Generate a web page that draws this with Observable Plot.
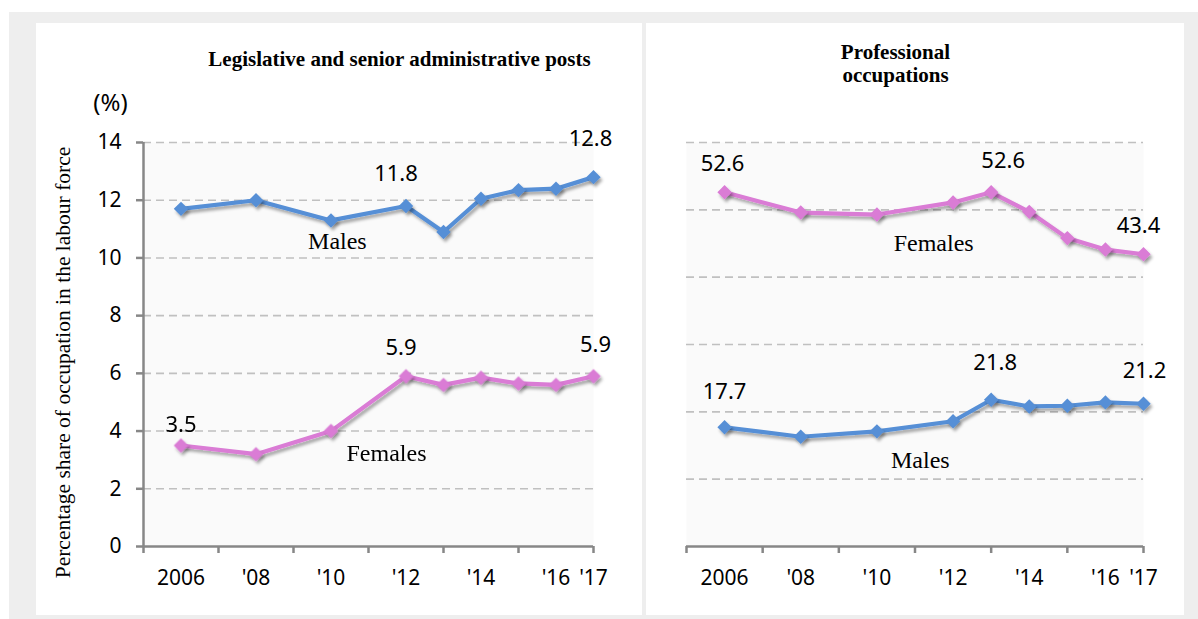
<!DOCTYPE html>
<html><head><meta charset="utf-8">
<script src="https://cdn.jsdelivr.net/npm/d3@7"></script>
<script src="https://cdn.jsdelivr.net/npm/@observablehq/plot@0.6"></script>
<style>
html,body{margin:0;padding:0;background:#fff;width:1198px;height:619px;overflow:hidden;position:relative}
#frame{position:absolute;left:9px;top:12px;width:1189px;height:607px;background:#eeeeee}
.panel{position:absolute;top:23px;height:592px;background:#fff}
#pL{left:36px;width:606px}
#pR{left:646px;width:538px}
.panel svg{position:absolute;left:0;top:0}
</style></head><body>
<div id="frame"></div>
<div class="panel" id="pL"></div>
<div class="panel" id="pR"></div>
<script>
// ---- data ----
const years = [2006, 2008, 2010, 2012, 2013, 2014, 2015, 2016, 2017];
const legMales   = [11.7, 12.0, 11.3, 11.8, 10.9, 12.05, 12.35, 12.4, 12.8];
const legFemales = [3.5, 3.2, 4.0, 5.9, 5.6, 5.85, 5.65, 5.6, 5.9];
const proFemales = [52.6, 49.6, 49.3, 51.1, 52.6, 49.7, 45.8, 44.1, 43.4];
const proMales   = [17.7, 16.3, 17.1, 18.6, 21.8, 20.8, 20.9, 21.4, 21.2];
const tickYears  = [2005, 2007, 2009, 2011, 2013, 2015, 2017];
const labelYears = [2006, 2008, 2010, 2012, 2014, 2016, 2017];
const legYTicks  = [0, 2, 4, 6, 8, 10, 12, 14];
const legGrid    = [2, 4, 6, 8, 10, 12, 14];
const proGrid    = [10, 20, 30, 40, 50, 60];
const titleLeft  = "Legislative and senior administrative posts";
const titleRight = "Professional\noccupations";
const yTitle     = "Percentage share of occupation in the labour force";
const unitLabel  = "(%)";

const BLUE = "#568fd6", PINK = "#da7bd5", AXIS = "#878787", GRID = "#c0c0c0";
const SANS = "Noto Sans", SERIF = "Liberation Serif";

const series = vals => years.map((y, i) => ({year: y, value: vals[i]}));
const fmtYear = d => d === 2006 ? "2006" : "'" + String(d).slice(2);

function seriesMarks(vals, color) {
  const data = series(vals);
  return [
    Plot.line(data, {x: "year", y: "value", stroke: color, strokeWidth: 4.2}),
    Plot.dot(data, {x: "year", y: "value", symbol: "diamond2", r: 6.5, fill: color, stroke: null})
  ];
}
function valueLabel(vals, year, dx, dy) {
  const i = years.indexOf(year);
  return Plot.text([{year, value: vals[i]}], {
    x: "year", y: "value", text: d => d.value.toFixed(1),
    dx, dy, fontSize: 22, fontFamily: SANS, fill: "#000"
  });
}
function nameLabel(name, year, value) {
  return Plot.text([{year, value, name}], {
    x: "year", y: "value", text: "name", fontSize: 24, fontFamily: SERIF, fill: "#000"
  });
}
function xAxisMarks() {
  return [
    Plot.ruleY([0], {stroke: AXIS, strokeWidth: 2.5}),
    Plot.axisX(tickYears, {tickSize: 7, stroke: AXIS, strokeWidth: 2.5, fill: "none", label: null}),
    Plot.axisX(labelYears, {tickSize: 0, tickPadding: 24, tickFormat: fmtYear, fontSize: 21,
      fontFamily: SANS, fill: "#000", label: null})
  ];
}
function addShadow(svg, id) {
  const sel = d3.select(svg);
  const f = sel.insert("defs", ":first-child").append("filter").attr("id", id)
    .attr("x", "-20%").attr("y", "-30%").attr("width", "140%").attr("height", "170%");
  f.append("feDropShadow").attr("dx", 2).attr("dy", 3).attr("stdDeviation", 1.6)
    .attr("flood-color", "#000").attr("flood-opacity", 0.33);
  sel.selectAll('g[aria-label="line"], g[aria-label="dot"]').attr("filter", `url(#${id})`);
}

// ---- left panel ----
const left = Plot.plot({
  width: 606, height: 592,
  marginLeft: 107, marginRight: 49, marginTop: 119, marginBottom: 69,
  x: {domain: [2005, 2017]},
  y: {domain: [0, 14]},
  style: {background: "transparent", overflow: "visible", fontFamily: SANS},
  marks: [
    Plot.frame({fill: "#fafafa", stroke: null}),
    Plot.gridY(legGrid, {stroke: GRID, strokeOpacity: 1, strokeWidth: 1.6, strokeDasharray: "8,5"}),
    Plot.ruleX([2005], {stroke: AXIS, strokeWidth: 2.5}),
    Plot.axisY(legYTicks, {tickSize: 7, tickPadding: 15, stroke: AXIS, strokeWidth: 2.5,
      fontSize: 21, fontFamily: SANS, fill: "#000", label: null}),
    ...xAxisMarks(),
    ...seriesMarks(legMales, BLUE),
    ...seriesMarks(legFemales, PINK),
    valueLabel(legMales, 2012, -10, -32),
    valueLabel(legMales, 2017, -3, -38),
    valueLabel(legFemales, 2006, 0, -21),
    valueLabel(legFemales, 2012, -5, -28),
    valueLabel(legFemales, 2017, 2, -31),
    nameLabel("Males", 2010.17, 10.57),
    nameLabel("Females", 2011.48, 3.22),
    Plot.text([titleLeft], {frameAnchor: "top", textAnchor: "middle", lineAnchor: "middle",
      dx: 31, dy: -83, fontSize: 21, fontWeight: "bold", fontFamily: SERIF, fill: "#000"}),
    Plot.text([unitLabel], {frameAnchor: "top-left", textAnchor: "middle", lineAnchor: "middle",
      dx: -33, dy: -39, fontSize: 24, fontFamily: SANS, fill: "#000"}),
    Plot.text([yTitle], {frameAnchor: "left", textAnchor: "middle", lineAnchor: "middle",
      rotate: -90, dx: -80, dy: 18, fontSize: 21.5, fontFamily: SERIF, fill: "#000"})
  ]
});
addShadow(left, "shadowL");
document.getElementById("pL").appendChild(left);

// ---- right panel ----
const right = Plot.plot({
  width: 538, height: 592,
  marginLeft: 40, marginRight: 41, marginTop: 119, marginBottom: 69,
  x: {domain: [2005, 2017]},
  y: {domain: [0, 60], axis: null},
  style: {background: "transparent", overflow: "visible", fontFamily: SANS},
  marks: [
    Plot.frame({fill: "#fafafa", stroke: null}),
    Plot.gridY(proGrid, {stroke: GRID, strokeOpacity: 1, strokeWidth: 1.6, strokeDasharray: "8,5"}),
    ...xAxisMarks(),
    ...seriesMarks(proFemales, PINK),
    ...seriesMarks(proMales, BLUE),
    valueLabel(proFemales, 2006, -2, -28),
    valueLabel(proFemales, 2013, 12, -31),
    valueLabel(proFemales, 2017, -5, -28),
    valueLabel(proMales, 2006, 0, -35),
    valueLabel(proMales, 2013, 4, -37),
    valueLabel(proMales, 2017, 1, -33),
    nameLabel("Females", 2011.49, 45.1),
    nameLabel("Males", 2011.14, 12.8),
    Plot.text([titleRight], {frameAnchor: "top", textAnchor: "middle", lineAnchor: "middle",
      dx: -19.5, dy: -79.5, fontSize: 21, lineHeight: 1.1,
      fontWeight: "bold", fontFamily: SERIF, fill: "#000"})
  ]
});
addShadow(right, "shadowR");
document.getElementById("pR").appendChild(right);
</script>
</body></html>
